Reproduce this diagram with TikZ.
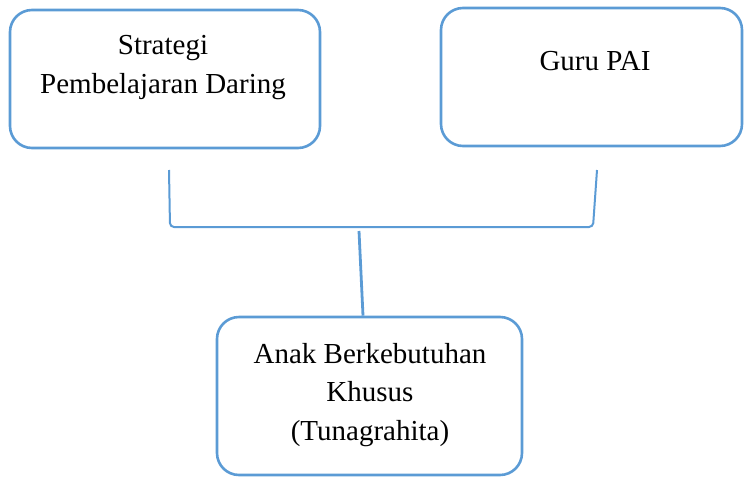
\documentclass[tikz,border=0pt]{standalone}
\usepackage{fontspec}
\setmainfont{Liberation Serif}
\usetikzlibrary{positioning,calc}
\definecolor{biru}{HTML}{5B9BD5}

\begin{document}
\begin{tikzpicture}[x=1pt,y=-1pt,
  blok/.style={rectangle,draw=biru,line width=2.6pt,rounded corners=22pt,inner sep=0pt},
  teks/.style={align=center,inner sep=0pt,anchor=base,font=\fontsize{29}{38.5}\selectfont},
  garis/.style={draw=biru,line width=2pt}]
  \useasboundingbox (0,0) rectangle (744,477);

  \node[blok,minimum width=310pt,minimum height=138pt] (strategi) at (165,79) {};
  \node[blok,minimum width=301pt,minimum height=138pt] (guru) at (591.5,77) {};
  \node[blok,minimum width=305pt,minimum height=158pt] (anak) at (369.5,396) {};

  \node[teks] (tstrategi) at (163,93) {Strategi\\Pembelajaran Daring};
  \node[teks] (tguru) at (595,70) {Guru PAI};
  \node[teks] (tanak) at (370,440) {Anak Berkebutuhan\\Khusus\\(Tunagrahita)};

  % kurung penghubung
  \coordinate (kiri) at (169,170);
  \coordinate (kanan) at (597,170);
  \coordinate (tengah) at (359,231);
  \draw[garis,rounded corners=4pt] (kiri) -- (170,227) -- (593,227) -- (kanan);
  \draw[garis,line width=2.8pt] (tengah) -- ([xshift=-6.5pt]anak.north);

\end{tikzpicture}
\end{document}
